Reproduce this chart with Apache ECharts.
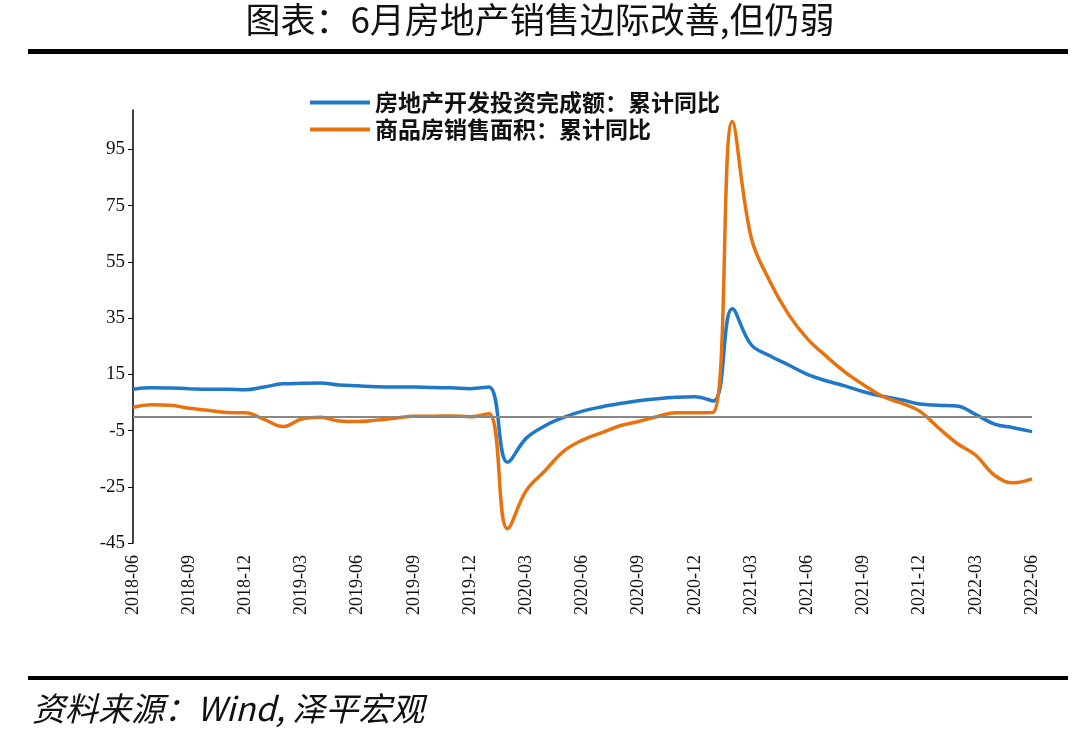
<!DOCTYPE html>
<html>
<head>
    <meta charset="UTF-8">
    <title>chart</title>
    <script src="https://cdn.jsdelivr.net/npm/echarts@6/dist/echarts.min.js"></script>
</head>
<body style="margin:0;background:#fff;">
    <div id="main" style="width:1080px; height:744px;"></div>
    <script>
        // months 2018-06 .. 2022-06
        var months = [];
        for (var y = 2018; y <= 2022; y++) {
            for (var m = 1; m <= 12; m++) {
                if ((y == 2018 && m < 6) || (y == 2022 && m > 6)) continue;
                months.push(y + '-' + (m < 10 ? '0' + m : m));
            }
        }
        var invest = [9.7, 10.2, 10.1, 9.9, 9.7, 9.7, 9.5,
            10.5, 11.6, 11.8, 11.9, 11.2, 10.9, 10.6, 10.5, 10.5, 10.3, 10.2, 9.9,
            10.5, -16.3, -7.7, -3.3, -0.3, 1.9, 3.4, 4.6, 5.6, 6.3, 6.8, 7.0,
            5.5, 38.3, 25.6, 21.6, 18.3, 15.0, 12.7, 10.9, 8.8, 7.2, 6.0, 4.4,
            4.0, 3.7, 0.7, -2.7, -4.0, -5.4];
        var sales = [3.3, 4.2, 4.0, 2.9, 2.2, 1.4, 1.3,
            -1.0, -3.6, -0.9, -0.3, -1.6, -1.8, -1.3, -0.6, 0.1, 0.1, 0.2, -0.1,
            1.0, -39.9, -26.3, -19.3, -12.3, -8.4, -5.8, -3.3, -1.8, 0.0, 1.3, 1.3,
            1.5, 104.9, 63.8, 48.1, 36.3, 27.7, 21.5, 15.9, 11.3, 7.2, 4.8, 1.9,
            -4.0, -9.6, -13.8, -20.9, -23.6, -22.2];
        var yTicks = [-45, -25, -5, 15, 35, 55, 75, 95];

        var chart = echarts.init(document.getElementById('main'), null, {renderer: 'canvas'});
        chart.setOption({
            backgroundColor: '#fff',
            animation: false,
            graphic: [
                {type: 'text', left: 'center', top: 2, style: {text: '图表：6月房地产销售边际改善,但仍弱', font: '35px "Noto Sans CJK SC"', fill: '#111'}},
                {type: 'rect', shape: {x: 28, y: 49, width: 1040, height: 5}, style: {fill: '#000'}},
                {type: 'rect', shape: {x: 28, y: 676, width: 1040, height: 4}, style: {fill: '#000'}},
                {type: 'text', left: 32, top: 692, style: {text: '资料来源：Wind, 泽平宏观', font: 'italic 33px "Noto Sans CJK SC"', fill: '#111'}}
            ],
            legend: {
                left: 305, top: 86, orient: 'vertical', itemGap: 4,
                itemWidth: 60, itemHeight: 4, icon: 'rect',
                textStyle: {fontSize: 23, fontWeight: 'bold', color: '#111', fontFamily: 'Noto Sans CJK SC'}
            },
            grid: {left: 133, right: 48, top: 110, bottom: 201},
            xAxis: {
                type: 'category', data: months, boundaryGap: false,
                axisLine: {onZero: false, show: false},
                axisTick: {show: false},
                axisLabel: {interval: 2, rotate: 90, fontSize: 18, color: '#111', fontFamily: 'Liberation Serif', margin: 12}
            },
            yAxis: {
                type: 'value', min: -45, max: 109, interval: 20,
                splitLine: {show: false},
                axisLine: {show: true, lineStyle: {color: '#000', width: 1.5}},
                axisTick: {show: true, inside: false, length: 5, lineStyle: {color: '#000'}},
                axisLabel: {fontSize: 19, color: '#111', fontFamily: 'Liberation Serif',
                    showMaxLabel: false,
                    formatter: function (v) { return yTicks.indexOf(v) >= 0 ? v : ''; }}
            },
            series: [
                {name: '房地产开发投资完成额：累计同比', type: 'line', data: invest, smooth: 0.4,
                    symbol: 'none', lineStyle: {width: 3.5, color: '#1f78c8'}, itemStyle: {color: '#1f78c8'},
                    markLine: {silent: true, symbol: 'none', label: {show: false},
                        lineStyle: {color: '#888', type: 'solid', width: 2}, data: [{yAxis: 0}]}},
                {name: '商品房销售面积：累计同比', type: 'line', data: sales, smooth: 0.4,
                    symbol: 'none', lineStyle: {width: 3.5, color: '#e8720f'}, itemStyle: {color: '#e8720f'}}
            ]
        });
    </script>
</body>
</html>
